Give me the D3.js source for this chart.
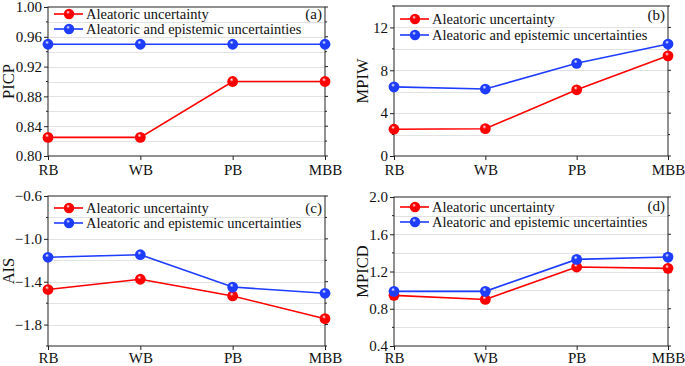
<!DOCTYPE html>
<html><head><meta charset="utf-8">
<script src="https://cdn.jsdelivr.net/npm/d3@7"></script>
<style>
html,body{margin:0;padding:0;background:#fff;}
svg{display:block;}
svg text{font-family:"Liberation Serif","Times New Roman","DejaVu Serif",serif;}
</style></head>
<body>
<svg id="chart" width="685" height="366"></svg>
<script>
const categories = ["RB", "WB", "PB", "MBB"];
const seriesNames = ["Aleatoric uncertainty", "Aleatoric and epistemic uncertainties"];
const seriesColors = ["#ff0000", "#1f3dff"];

const picpAleatoric = [0.825, 0.825, 0.900, 0.900];
const picpBoth      = [0.950, 0.950, 0.950, 0.950];
const mpiwAleatoric = [2.50, 2.55, 6.18, 9.35];
const mpiwBoth      = [6.45, 6.25, 8.65, 10.45];
const aisAleatoric  = [-1.473, -1.377, -1.533, -1.745];
const aisBoth       = [-1.172, -1.148, -1.450, -1.508];
const mpicdAleatoric = [0.944, 0.900, 1.248, 1.234];
const mpicdBoth      = [0.987, 0.987, 1.330, 1.355];

const picpTicks  = [0.80, 0.84, 0.88, 0.92, 0.96, 1.00];
const mpiwTicks  = [0, 4, 8, 12];
const aisTicks   = [-1.8, -1.4, -1.0, -0.6];
const mpicdTicks = [0.4, 0.8, 1.2, 1.6, 2.0];

const panels = [
  {tag: "(a)", label: "PICP", data: [picpAleatoric, picpBoth], domain: [0.80, 1.00], ticks: picpTicks, step: 0.02, fmt: d3.format(".2f"),
   x0: 48, x1: 325, y0: 7, y1: 156, labelX: 8, legY: [14, 29], tagY: 14, padX: 4},
  {tag: "(b)", label: "MPIW", data: [mpiwAleatoric, mpiwBoth], domain: [0, 14], ticks: mpiwTicks, step: 2, fmt: d3.format("d"),
   x0: 394, x1: 668, y0: 6, y1: 156, labelX: 362, legY: [19, 35], tagY: 15, padX: 4},
  {tag: "(c)", label: "AIS", data: [aisAleatoric, aisBoth], domain: [-2.0, -0.6], ticks: aisTicks, step: 0.2, fmt: d3.format(".1f"),
   x0: 48, x1: 325, y0: 196, y1: 346, labelX: 8, legY: [208, 223], tagY: 208, padX: 2.5},
  {tag: "(d)", label: "MPICD", data: [mpicdAleatoric, mpicdBoth], domain: [0.4, 2.0], ticks: mpicdTicks, step: 0.2, fmt: d3.format(".1f"),
   x0: 394, x1: 668, y0: 197, y1: 346, labelX: 362, legY: [207, 222], tagY: 206, padX: 2.5}
];

const svg = d3.select("#chart");
const defs = svg.append("defs");
seriesColors.forEach((c, i) => {
  const g = defs.append("radialGradient").attr("id", "ball" + i)
    .attr("cx", "45%").attr("cy", "40%").attr("r", "60%").attr("fx", "40%").attr("fy", "32%");
  g.append("stop").attr("offset", "0%").attr("stop-color", "#ffffff");
  g.append("stop").attr("offset", "30%").attr("stop-color", c);
  g.append("stop").attr("offset", "100%").attr("stop-color", c);
});

panels.forEach(p => {
  const g = svg.append("g");
  const x = d3.scalePoint().domain(categories).range([p.x0, p.x1]);
  const y = d3.scaleLinear().domain(p.domain).range([p.y1, p.y0]);
  const nSteps = Math.round((p.domain[1] - p.domain[0]) / p.step);
  const all = d3.range(nSteps + 1).map(i => p.domain[0] + i * p.step);
  const minor = all.filter(v => !p.ticks.some(t => Math.abs(t - v) < 1e-9));

  // gridlines
  g.append("g").selectAll("line").data(all.slice(1, -1)).join("line")
    .attr("x1", p.x0).attr("x2", p.x1)
    .attr("y1", d => Math.round(y(d)) + 0.5).attr("y2", d => Math.round(y(d)) + 0.5)
    .attr("stroke", "#e2e2e2").attr("stroke-width", 1);

  // left axis
  const ax = g.append("g").attr("transform", `translate(${p.x0},0)`)
    .call(d3.axisLeft(y).tickValues(p.ticks).tickFormat(p.fmt).tickSize(4).tickPadding(2));
  ax.attr("font-family", null);
  ax.select(".domain").remove();
  ax.selectAll("line").attr("stroke", "#222");
  ax.selectAll("text").attr("font-size", 15).attr("fill", "#111");
  g.append("g").selectAll("line").data(minor).join("line")
    .attr("x1", p.x0 - 2).attr("x2", p.x0).attr("y1", d => y(d)).attr("y2", d => y(d)).attr("stroke", "#222");
  // right ticks
  g.append("g").selectAll("line").data(all).join("line")
    .attr("x1", p.x1).attr("x2", d => p.ticks.some(t => Math.abs(t - d) < 1e-9) ? p.x1 + 3 : p.x1 + 2)
    .attr("y1", d => y(d)).attr("y2", d => y(d)).attr("stroke", "#222");

  // bottom axis
  const bx = g.append("g").attr("transform", `translate(0,${p.y1})`)
    .call(d3.axisBottom(x).tickSize(4).tickPadding(p.padX));
  bx.attr("font-family", null);
  bx.select(".domain").remove();
  bx.selectAll("line").attr("stroke", "#222");
  bx.selectAll("text").attr("font-size", 15).attr("fill", "#111");

  // frame
  g.append("rect").attr("x", p.x0).attr("y", p.y0).attr("width", p.x1 - p.x0).attr("height", p.y1 - p.y0)
    .attr("fill", "none").attr("stroke", "#222").attr("stroke-width", 1);

  // y label
  g.append("text").attr("transform", `translate(${p.labelX},${(p.y0 + p.y1) / 2}) rotate(-90)`)
    .attr("text-anchor", "middle").attr("dominant-baseline", "central")
    .attr("font-size", 16.5).attr("fill", "#111").text(p.label);

  // series
  const line = d3.line().x((d, i) => x(categories[i])).y(d => y(d));
  p.data.forEach((vals, si) => {
    g.append("path").datum(vals).attr("d", line).attr("fill", "none")
      .attr("stroke", seriesColors[si]).attr("stroke-width", 1.6);
    g.append("g").selectAll("circle").data(vals).join("circle")
      .attr("cx", (d, i) => x(categories[i])).attr("cy", d => y(d)).attr("r", 5.4)
      .attr("fill", `url(#ball${si})`);
  });

  // legend
  seriesNames.forEach((name, si) => {
    const ly = p.legY[si];
    const lx = p.x0 + 6;
    g.append("line").attr("x1", lx).attr("x2", lx + 29).attr("y1", ly).attr("y2", ly)
      .attr("stroke", seriesColors[si]).attr("stroke-width", 1.6);
    g.append("circle").attr("cx", lx + 15).attr("cy", ly).attr("r", 5.2).attr("fill", `url(#ball${si})`);
    g.append("text").attr("x", lx + 32).attr("y", ly).attr("dominant-baseline", "central")
      .attr("font-size", 14.5).attr("fill", "#111").text(name);
  });

  // tag
  g.append("text").attr("x", p.x1 - 3).attr("y", p.tagY).attr("text-anchor", "end")
    .attr("dominant-baseline", "central").attr("font-size", 15).attr("fill", "#111").text(p.tag);
});
</script>
</body></html>
